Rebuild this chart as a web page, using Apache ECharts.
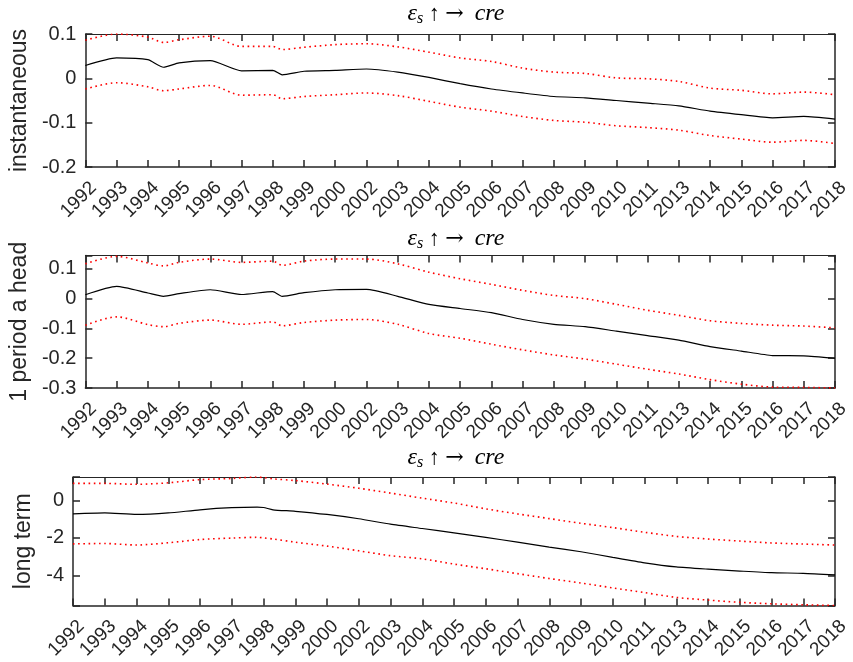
<!DOCTYPE html>
<html>
<head>
<meta charset="utf-8">
<script src="https://cdn.jsdelivr.net/npm/echarts@6/dist/echarts.min.js"></script>
<style>
  html, body { margin: 0; padding: 0; background: #fff; }
  #chart { width: 853px; height: 662px; }
</style>
</head>
<body>
<div id="chart"></div>
<script>
// tick labels (evenly spaced ticks, index 0..24)
var tickLabels = ['1992', '1993', '1994', '1995', '1996', '1997', '1998', '1999', '2000',
    '2002', '2003', '2004', '2005', '2006', '2007', '2008', '2009', '2010', '2011',
    '2013', '2014', '2015', '2016', '2017', '2018'];

// sample positions along the tick index
var xPos12 = [0, 1, 2, 2.5, 3, 4, 5, 6, 6.3, 7, 8, 9, 10, 11, 12, 13, 14, 15, 16, 17, 18, 19, 20, 21, 22, 23, 24];
var xPos3 = [0, 1, 2, 3, 4, 5, 5.8, 6, 6.3, 7, 8, 9, 10, 11, 12, 13, 14, 15, 16, 17, 18, 19, 20, 21, 22, 23, 24];

// instantaneous
var mid1 = [0.029, 0.046, 0.042, 0.025, 0.035, 0.040, 0.017, 0.018, 0.008, 0.016, 0.018, 0.021, 0.014, 0.002,
    -0.012, -0.024, -0.033, -0.041, -0.044, -0.050, -0.056, -0.062, -0.074, -0.082, -0.089, -0.086, -0.092];
var upper1 = [0.086, 0.100, 0.093, 0.081, 0.087, 0.095, 0.072, 0.072, 0.065, 0.070, 0.076, 0.078, 0.071, 0.059,
    0.046, 0.038, 0.023, 0.014, 0.011, 0.001, -0.001, -0.007, -0.022, -0.027, -0.035, -0.031, -0.037];
var lower1 = [-0.024, -0.010, -0.019, -0.028, -0.024, -0.016, -0.038, -0.037, -0.046, -0.041, -0.037, -0.033, -0.039, -0.052,
    -0.065, -0.074, -0.086, -0.095, -0.099, -0.107, -0.111, -0.117, -0.129, -0.137, -0.144, -0.140, -0.147];

// 1 period a head
var mid2 = [0.013, 0.041, 0.019, 0.008, 0.017, 0.030, 0.014, 0.024, 0.008, 0.020, 0.030, 0.031, 0.008, -0.019,
    -0.033, -0.047, -0.070, -0.086, -0.094, -0.109, -0.124, -0.139, -0.161, -0.176, -0.191, -0.192, -0.200];
var upper2 = [0.117, 0.142, 0.120, 0.110, 0.122, 0.133, 0.122, 0.126, 0.112, 0.126, 0.133, 0.133, 0.117, 0.089,
    0.067, 0.048, 0.028, 0.011, 0.000, -0.019, -0.039, -0.056, -0.074, -0.083, -0.089, -0.092, -0.098];
var lower2 = [-0.089, -0.061, -0.087, -0.094, -0.083, -0.072, -0.086, -0.078, -0.091, -0.080, -0.072, -0.070, -0.086, -0.117,
    -0.133, -0.153, -0.172, -0.189, -0.203, -0.220, -0.237, -0.253, -0.272, -0.287, -0.297, -0.298, -0.300];

// long term
var mid3 = [-0.72, -0.67, -0.75, -0.67, -0.50, -0.39, -0.36, -0.38, -0.50, -0.58, -0.75, -0.98, -1.27, -1.50,
    -1.73, -1.97, -2.23, -2.49, -2.74, -3.04, -3.33, -3.55, -3.67, -3.77, -3.86, -3.89, -3.98];
var upper3 = [0.91, 0.91, 0.86, 0.94, 1.11, 1.17, 1.25, 1.22, 1.15, 1.06, 0.87, 0.65, 0.39, 0.12,
    -0.14, -0.45, -0.72, -0.97, -1.22, -1.45, -1.70, -1.92, -2.06, -2.17, -2.27, -2.33, -2.38];
var lower3 = [-2.32, -2.30, -2.38, -2.26, -2.09, -2.01, -1.97, -2.00, -2.06, -2.23, -2.44, -2.69, -2.95, -3.12,
    -3.40, -3.65, -3.91, -4.17, -4.41, -4.67, -4.92, -5.18, -5.32, -5.44, -5.52, -5.57, -5.61];

var yNames = ['instantaneous', '1 period a head', 'long term'];

var axisColor = '#262626';
var sans = '"Liberation Sans", Arial, Helvetica, sans-serif';
var serif = '"Liberation Serif", "DejaVu Serif", serif';

var chart = echarts.init(document.getElementById('chart'), null, { renderer: 'canvas' });

function pairs(xs, ys) {
    return xs.map(function (x, i) { return [x, ys[i]]; });
}

// hide labels that are not on the nice step (e.g. the extent ticks)
function stepLabel(step) {
    return function (v) {
        var r = v / step;
        return Math.abs(r - Math.round(r)) < 1e-6 ? String(Math.round(r * step * 1000) / 1000) : '';
    };
}

var grids = [
    { left: 73, right: 18, top: 34, height: 133 },
    { left: 73, right: 18, top: 255.5, height: 132.5 },
    { left: 73, right: 18, top: 477, height: 133 }
];
var yRanges = [
    { min: -0.2, max: 0.1, step: 0.1, gap: 47 },
    { min: -0.3, max: 0.145, step: 0.1, gap: 47 },
    { min: -5.61, max: 1.25, step: 2, gap: 26 }
];
var titleTops = [1, 226, 445];

var xAxes = [], yAxes = [], titles = [], series = [];

grids.forEach(function (g, k) {
    var tickStyle = { show: true, inside: true, length: 7, lineStyle: { color: axisColor, width: 1.5 } };
    xAxes.push({
        gridIndex: k, type: 'value', position: 'bottom', min: 0, max: 24, interval: 1,
        axisLine: { onZero: false, lineStyle: { color: axisColor, width: 1.5 } },
        axisTick: tickStyle,
        splitLine: { show: false },
        axisLabel: {
            rotate: 45, align: 'center', verticalAlign: 'middle', margin: 26,
            padding: [0, 19, 0, 0],
            color: axisColor, fontFamily: sans, fontSize: 19,
            formatter: function (v) { return tickLabels[Math.round(v)] || ''; }
        }
    });
    xAxes.push({
        gridIndex: k, type: 'value', position: 'top', min: 0, max: 24, interval: 1,
        axisLine: { onZero: false, lineStyle: { color: axisColor, width: 1 } },
        axisTick: tickStyle,
        splitLine: { show: false },
        axisLabel: { show: false }
    });
    var r = yRanges[k];
    var yBase = { gridIndex: k, type: 'value', min: r.min, max: r.max, splitLine: { show: false } };
    if (k < 2) {
        yBase.interval = r.step;
    } else {
        yBase.minInterval = r.step;
        yBase.maxInterval = r.step;
        yBase.splitNumber = 3;
    }
    yAxes.push(Object.assign({}, yBase, {
        position: 'left',
        name: yNames[k], nameLocation: 'middle', nameGap: r.gap,
        nameTextStyle: { color: axisColor, fontFamily: sans, fontSize: 23 },
        axisLine: { show: true, onZero: false, lineStyle: { color: axisColor, width: 1.5 } },
        axisTick: tickStyle,
        axisLabel: { color: axisColor, fontFamily: sans, fontSize: 20, margin: 9, formatter: stepLabel(r.step) }
    }));
    yAxes.push(Object.assign({}, yBase, {
        position: 'right',
        axisLine: { show: true, onZero: false, lineStyle: { color: axisColor, width: 1.5 } },
        axisTick: tickStyle,
        axisLabel: { show: false }
    }));
    titles.push({
        left: 456, top: titleTops[k], textAlign: 'center', padding: 0,
        text: '{i|ε}{s|s} {n|↑} {a|→}  {i|cre}',
        textStyle: {
            fontFamily: serif, fontSize: 22, fontWeight: 'normal', color: '#000',
            rich: {
                i: { fontFamily: serif, fontStyle: 'italic', fontSize: 24, lineHeight: 26, color: '#000' },
                s: { fontFamily: serif, fontStyle: 'italic', fontSize: 16, lineHeight: 19, verticalAlign: 'bottom', color: '#000' },
                n: { fontFamily: serif, fontSize: 22, lineHeight: 26, color: '#000' },
                a: { fontFamily: '"DejaVu Serif", serif', fontSize: 22, lineHeight: 26, color: '#000' }
            }
        }
    });
});

var panels = [
    { xs: xPos12, mid: mid1, up: upper1, lo: lower1 },
    { xs: xPos12, mid: mid2, up: upper2, lo: lower2 },
    { xs: xPos3, mid: mid3, up: upper3, lo: lower3 }
];

panels.forEach(function (p, k) {
    var bandStyle = { color: '#ff0000', width: 1.6, type: [1.6, 3.6] };
    series.push({
        type: 'line', xAxisIndex: 2 * k, yAxisIndex: 2 * k, data: pairs(p.xs, p.up),
        showSymbol: false, smooth: 0.3, lineStyle: bandStyle, itemStyle: { color: '#ff0000' }
    });
    series.push({
        type: 'line', xAxisIndex: 2 * k, yAxisIndex: 2 * k, data: pairs(p.xs, p.lo),
        showSymbol: false, smooth: 0.3, lineStyle: bandStyle, itemStyle: { color: '#ff0000' }
    });
    series.push({
        type: 'line', xAxisIndex: 2 * k, yAxisIndex: 2 * k, data: pairs(p.xs, p.mid),
        showSymbol: false, smooth: 0.2, lineStyle: { color: '#000', width: 1.2 }, itemStyle: { color: '#000' }
    });
});

chart.setOption({
    backgroundColor: '#fff',
    animation: false,
    title: titles,
    grid: grids,
    xAxis: xAxes,
    yAxis: yAxes,
    series: series
});
</script>
</body>
</html>
